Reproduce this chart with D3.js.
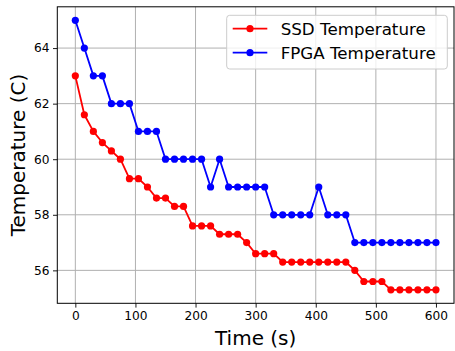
<!DOCTYPE html>
<html><head><meta charset="utf-8">
<script src="https://cdn.jsdelivr.net/npm/d3@7"></script>
<style>body{margin:0;background:#fff}svg{display:block;font-family:"DejaVu Sans",sans-serif}</style>
</head><body><svg id="c" width="455" height="351"></svg>
<script>
const times = d3.range(0, 601, 15);
const ssdTemp = [63,61.6,61,60.6,60.3,60,59.3,59.3,59,58.6,58.6,58.3,58.3,57.6,57.6,57.6,57.3,57.3,57.3,57,56.6,56.6,56.6,56.3,56.3,56.3,56.3,56.3,56.3,56.3,56.3,56,55.6,55.6,55.6,55.3,55.3,55.3,55.3,55.3,55.3];
const fpgaTemp = [65,64,63,63,62,62,62,61,61,61,60,60,60,60,60,59,60,59,59,59,59,59,58,58,58,58,58,59,58,58,58,57,57,57,57,57,57,57,57,57,57];
const xTicks = [0,100,200,300,400,500,600];
const yTicks = [56,58,60,62,64];
const seriesNames = ["SSD Temperature","FPGA Temperature"];
const seriesColors = ["#ff0000","#0000ff"];

const svg = d3.select("#c");
const L = 57.3, R = 454, T = 6.8, B = 303.3;
const x = d3.scaleLinear().domain([-30, 630]).range([L, R]);
const y = d3.scaleLinear().domain([54.815, 65.485]).range([B, T]);

// grid
const g = svg.append("g");
g.selectAll(".gx").data(xTicks).join("line")
  .attr("x1", d => x(d)).attr("x2", d => x(d)).attr("y1", T).attr("y2", B)
  .attr("stroke", "#b0b0b0").attr("stroke-width", 1);
g.selectAll(".gy").data(yTicks).join("line")
  .attr("y1", d => y(d)).attr("y2", d => y(d)).attr("x1", L).attr("x2", R)
  .attr("stroke", "#b0b0b0").attr("stroke-width", 1);

// series
const series = [ssdTemp, fpgaTemp];
series.forEach((vals, i) => {
  const pts = times.map((t, j) => [t, vals[j]]);
  svg.append("path").datum(pts)
    .attr("d", d3.line().x(d => x(d[0])).y(d => y(d[1])))
    .attr("fill", "none").attr("stroke", seriesColors[i]).attr("stroke-width", 1.8)
    .attr("stroke-linejoin", "round");
  svg.append("g").selectAll("circle").data(pts).join("circle")
    .attr("cx", d => x(d[0])).attr("cy", d => y(d[1])).attr("r", 3.6)
    .attr("fill", seriesColors[i]);
});

// axes
const xa = svg.append("g").attr("transform", `translate(0,${B})`)
  .call(d3.axisBottom(x).tickValues(xTicks).tickSize(4.3).tickPadding(3.5).tickSizeOuter(0));
const ya = svg.append("g").attr("transform", `translate(${L},0)`)
  .call(d3.axisLeft(y).tickValues(yTicks).tickSize(4.3).tickPadding(3.5).tickSizeOuter(0));
[xa, ya].forEach(a => {
  a.select(".domain").remove();
  a.selectAll("text").attr("font-size", 12.2).attr("fill", "#000").attr("font-family", "DejaVu Sans");
  a.selectAll("line").attr("stroke", "#000").attr("stroke-width", 0.9);
});
// spines
svg.append("rect").attr("x", L).attr("y", T).attr("width", R - L).attr("height", B - T)
  .attr("fill", "none").attr("stroke", "#000").attr("stroke-width", 1);

// axis labels
svg.append("text").attr("x", (L + R) / 2).attr("y", 345).attr("text-anchor", "middle")
  .attr("font-size", 20).text("Time (s)");
svg.append("text").attr("transform", `translate(25,${(T + B) / 2}) rotate(-90)`)
  .attr("text-anchor", "middle").attr("font-size", 20).text("Temperature (C)");

// legend
const lg = svg.append("g");
lg.append("rect").attr("x", 226.7).attr("y", 15.3).attr("width", 220.6).attr("height", 53.7)
  .attr("rx", 3).attr("fill", "#fff").attr("fill-opacity", 0.8).attr("stroke", "#cccccc").attr("stroke-width", 1);
seriesNames.forEach((n, i) => {
  const yy = 28.7 + i * 24;
  lg.append("line").attr("x1", 232.7).attr("x2", 267.3).attr("y1", yy).attr("y2", yy)
    .attr("stroke", seriesColors[i]).attr("stroke-width", 1.8);
  lg.append("circle").attr("cx", 250).attr("cy", yy).attr("r", 3.6).attr("fill", seriesColors[i]);
  lg.append("text").attr("x", 280.7).attr("y", yy).attr("dy", "0.36em").attr("font-size", 16.7).text(n);
});
</script></body></html>
